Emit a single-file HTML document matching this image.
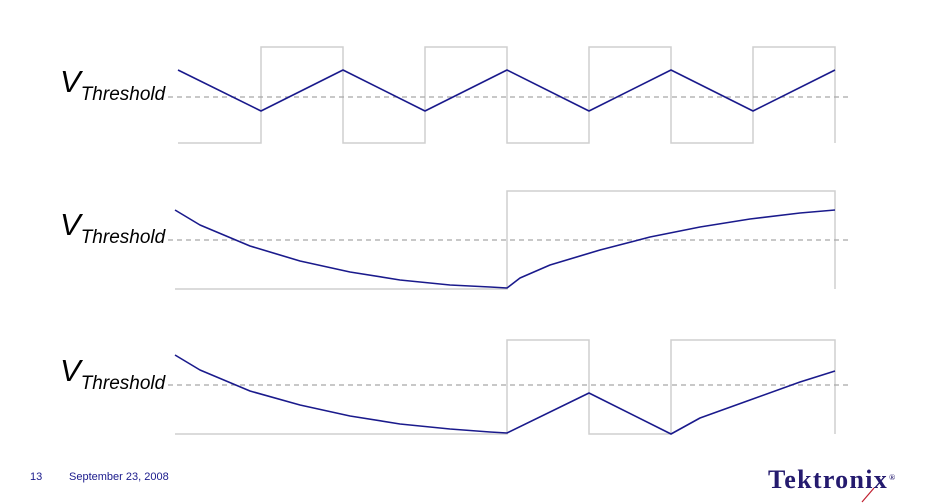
<!DOCTYPE html>
<html><head><meta charset="utf-8"><style>
body{margin:0;background:#fff;width:936px;height:504px;overflow:hidden;font-family:"Liberation Sans",sans-serif}
svg{position:absolute;left:0;top:0}
</style></head><body>
<svg id="c" width="936" height="504"></svg>
<script>
// Panel data: square wave transition x positions (value domain = px along time axis) and waveform samples
const p1Edges=[261,343,425,507,589,671,753];
const p1WaveT=[178,261,343,425,507,589,671,753,835];
const p1WaveV=[70,111,70,111,70,111,70,111,70];
const p2Edges=[507];
const p2WaveT=[175,200,250,300,350,400,450,490,507,520,550,600,650,700,750,800,835];
const p2WaveV=[210,225,246,261,272,280,285,287,288,278,265,250,237,227,219,213,210];
const p3Edges=[507,589,671];
const p3WaveT=[175,200,250,300,350,400,450,490,507,589,671,700,750,800,835];
const p3WaveV=[355,370,391,405,416,424,429,432,433,393,434,418,400,382,371];
const panels=[
 {x0:178,x1:835,lo:143,hi:47,thr:97,edges:p1Edges,t:p1WaveT,v:p1WaveV,ly:92},
 {x0:175,x1:835,lo:289,hi:191,thr:240,edges:p2Edges,t:p2WaveT,v:p2WaveV,ly:235},
 {x0:175,x1:835,lo:434,hi:340,thr:385,edges:p3Edges,t:p3WaveT,v:p3WaveV,ly:381}];
const NS="http://www.w3.org/2000/svg";
const svg=document.getElementById('c');
function mk(tag,attrs,parent){const e=document.createElementNS(NS,tag);for(const k in attrs)e.setAttribute(k,attrs[k]);(parent||svg).appendChild(e);return e;}
panels.forEach((p,i)=>{
 const g=mk('g',{});
 
 
 let d='M'+p.x0+' '+p.lo, lvl=false;
 p.edges.forEach(x=>{const y=lvl?p.hi:p.lo;d+=' L'+x+' '+y;lvl=!lvl;d+=' L'+x+' '+(lvl?p.hi:p.lo);});
 d+=' L'+p.x1+' '+(lvl?p.hi:p.lo);
 if(lvl)d+=' L'+p.x1+' '+p.lo;
 const sq=mk('path',{d:d,fill:'none',stroke:'#cfcfcf','stroke-width':1.5},g);
 
 
 const th=mk('line',{x1:168,x2:850,y1:p.thr,y2:p.thr,stroke:'#a8a8a8','stroke-width':1.2,'stroke-dasharray':'5,4'},g);
 
 
 const pts=p.t.map((t,j)=>t+','+p.v[j]).join(' ');
 const w=mk('polyline',{points:pts,fill:'none',stroke:'#1a1a8c','stroke-width':1.6,'stroke-linejoin':'round'},g);
 
 
 const tx=mk('text',{x:60,y:p.ly,'font-family':'"Liberation Sans",sans-serif','font-style':'italic',fill:'#000'},g);
 
 
 const a=mk('tspan',{'font-size':31},tx);a.textContent='V';
 const b=mk('tspan',{'font-size':19,dy:8},tx);b.textContent='Threshold';
});
</script>
<div style="position:absolute;left:30px;top:471px;font-size:11px;color:#1a1a8c">13</div>
<div style="position:absolute;left:69px;top:471px;font-size:11px;color:#1a1a8c">September 23, 2008</div>
<div style="position:absolute;left:768px;top:465px;font-family:'Liberation Serif',serif;font-weight:bold;font-size:26px;color:#241a6e;letter-spacing:1.3px;white-space:nowrap">Tektronix<span style="font-size:8px;vertical-align:top;margin-left:1px;position:relative;top:8px">®</span></div>
<svg width="936" height="504" style="pointer-events:none"><line x1="862" y1="502" x2="874" y2="488" stroke="#c02030" stroke-width="1.2"/></svg>
</body></html>
